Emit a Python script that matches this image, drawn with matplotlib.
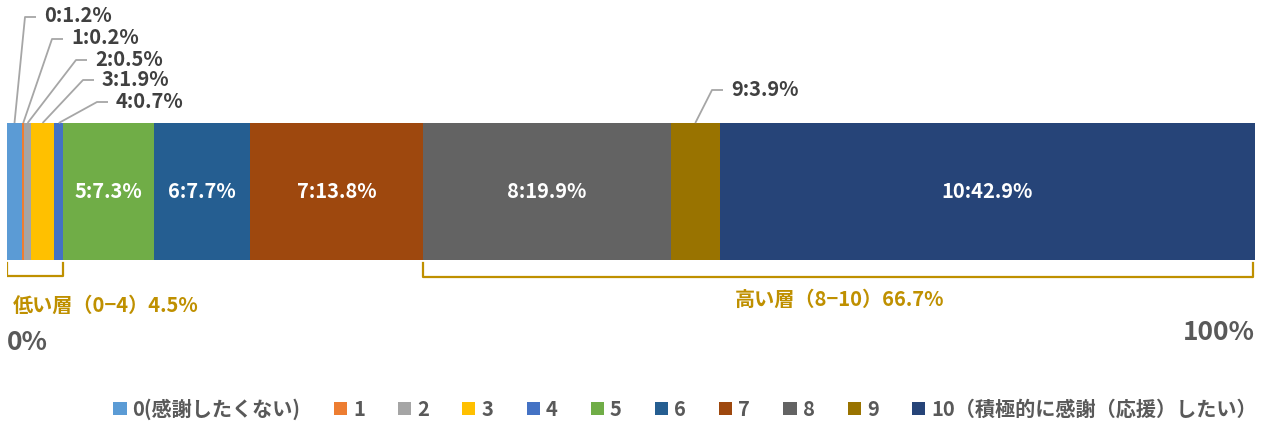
import matplotlib.pyplot as plt
from matplotlib.patches import Patch
import numpy as np

plt.rcParams['font.family'] = ['Noto Sans CJK JP', 'DejaVu Sans']

scores = ['0', '1', '2', '3', '4', '5', '6', '7', '8', '9', '10']
shares = [1.2, 0.2, 0.5, 1.9, 0.7, 7.3, 7.7, 13.8, 19.9, 3.9, 42.9]
legend_names = ['0(感謝したくない)', '1', '2', '3', '4', '5', '6', '7', '8', '9',
                '10（積極的に感謝（応援）したい）']
colors = ['#5B9BD5', '#ED7D31', '#A5A5A5', '#FFC000', '#4472C4', '#70AD47',
          '#255E91', '#9E480E', '#636363', '#997300', '#264478']
low_label = '低い層（0−4）4.5%'
high_label = '高い層（8−10）66.7%'

W, H = 1271, 424
fig = plt.figure(figsize=(W / 100, H / 100), dpi=100)
# axes spans bar width, y in pixel units (top = 0)
ax = fig.add_axes([7 / W, 0, 1248 / W, 1])
ax.set_xlim(0, 100)
ax.set_ylim(H, 0)
ax.axis('off')

px = 100 / 1248  # one pixel in x data units

left = np.concatenate([[0], np.cumsum(shares)[:-1]])
ax.barh(191.5, shares, left=left, height=137, color=colors, linewidth=0)

gray = '#404040'
inside = [5, 6, 7, 8, 10]
for i in inside:
    ax.text(left[i] + shares[i] / 2, 191, f'{scores[i]}:{shares[i]}%', color='white',
            fontsize=14.5, fontweight='bold', ha='center', va='center')

# outside labels with leader lines: (knee x px, label y px)
callouts = {0: (25, 17), 1: (52, 39), 2: (76, 60), 3: (83, 80), 4: (97, 102), 9: (712, 90)}
for i, (kx, ky) in callouts.items():
    cx = left[i] + shares[i] / 2
    kxd = (kx - 7) * px
    ax.plot([cx, kxd, kxd + 11 * px], [123, ky, ky], color='#A6A6A6', lw=1.3,
            solid_capstyle='butt')
    ax.text(kxd + 19 * px, ky - 1, f'{scores[i]}:{shares[i]}%', color=gray,
            fontsize=14.5, fontweight='bold', ha='left', va='center')

gold = '#BF9000'
lo_end = sum(shares[:5])
hi_start = sum(shares[:8])
ax.plot([0, 0, lo_end, lo_end], [263, 276, 276, 263], color=gold, lw=1.6)
ax.plot([hi_start, hi_start, 99.8, 99.8], [263, 277, 277, 263], color=gold, lw=1.6)
ax.text(6 * px, 305, low_label, color=gold, fontsize=14.5, fontweight='bold',
        ha='left', va='center')
ax.text((840 - 7) * px, 299, high_label, color=gold, fontsize=14.5, fontweight='bold',
        ha='center', va='center')

ax.text(0, 343, '0%', color='#595959', fontsize=19, fontweight='bold',
        ha='left', va='center')
ax.text(100, 332, '100%', color='#595959', fontsize=19, fontweight='bold',
        ha='right', va='center')

handles = [Patch(facecolor=c, edgecolor='none') for c in colors]
fig.legend(handles, legend_names, loc='center', bbox_to_anchor=(685 / W, 1 - 409 / H),
           ncol=11, frameon=False, handlelength=0.65, handleheight=0.65,
           handletextpad=0.3, columnspacing=1.65,
           prop={'size': 14.5, 'weight': 'bold'}, labelcolor='#595959')

fig.savefig('out.png', dpi=100)
